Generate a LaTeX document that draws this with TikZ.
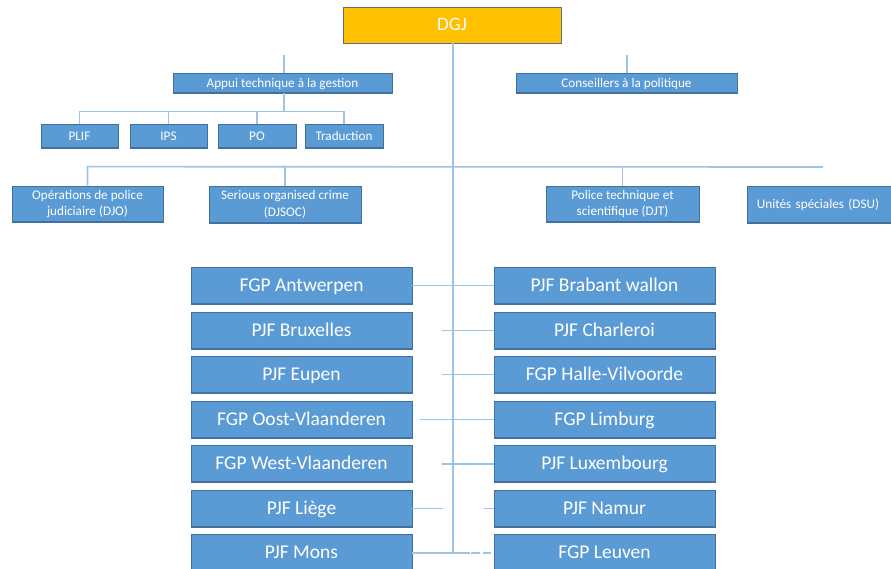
\documentclass[tikz,border=0pt]{standalone}
\usepackage{fontspec}
\setmainfont{Carlito}
\definecolor{boxblue}{HTML}{5B9BD5}
\definecolor{boxedge}{HTML}{41719C}
\definecolor{linkblue}{HTML}{9DC3E6}
\definecolor{gold}{HTML}{FFC000}
\definecolor{goldedge}{HTML}{5E6E84}
\tikzset{
  orgbox/.style={rectangle, fill=boxblue, draw=boxedge, line width=0.7pt, text=white,
    inner sep=0pt, align=center,
    path picture={\draw[boxedge, line width=2.4pt] (path picture bounding box.south west) -- (path picture bounding box.south east);}},
  smallbox/.style={orgbox, font=\fontsize{13.2}{16.5}\selectfont},
  onelinebox/.style={smallbox, text height=10pt, text depth=2pt},
  bigbox/.style={orgbox, minimum width=221pt, minimum height=37pt, text height=14pt, text depth=3pt, font=\fontsize{19.5}{22}\selectfont},
  link/.style={draw=linkblue, line width=1.6pt},
  thinlink/.style={draw=linkblue, line width=1.3pt}
}
\begin{document}
\begin{tikzpicture}[x=1pt,y=-1pt]
\useasboundingbox[fill=white] (0,0) rectangle (891,568);
% top
\node[rectangle, fill=gold, draw=goldedge, line width=0.8pt, text=white, minimum width=218pt, minimum height=36pt, inner sep=0pt, text height=14pt, text depth=3pt, font=\fontsize{19}{22}\selectfont] (dgj) at (452,25) {DGJ};
\node[onelinebox, minimum width=219pt, minimum height=20pt] (appui) at (282.5,83) {Appui technique à la gestion};
\node[onelinebox, minimum width=221pt, minimum height=20pt] (cons) at (626.5,83) {Conseillers à la politique};
\node[onelinebox, minimum width=77pt, minimum height=24pt] (plif) at (79.5,136) {PLIF};
\node[onelinebox, minimum width=77pt, minimum height=24pt] (ips) at (168.5,136) {IPS};
\node[onelinebox, minimum width=78pt, minimum height=24pt] (po) at (257,136) {PO};
\node[onelinebox, minimum width=78pt, minimum height=24pt] (trad) at (344,136) {Traduction};
\node[smallbox, minimum width=151pt, minimum height=36pt] (djo) at (87.5,204) {Opérations de police\\judiciaire (DJO)};
\node[smallbox, minimum width=152pt, minimum height=37pt] (djsoc) at (285,204.5) {Serious organised crime\\(DJSOC)};
\node[smallbox, minimum width=153pt, minimum height=36pt] (djt) at (622.5,204) {Police technique et\\scientifique (DJT)};
\node[onelinebox, minimum width=146pt, minimum height=37pt, text width=146pt] (dsu) at (820,204.5) {\hspace*{-4pt}Unités spéciales (DSU)};
% bottom columns
\node[bigbox] (antw) at (301.5,285.5) {FGP Antwerpen};
\node[bigbox] (brux) at (301.5,330.5) {PJF Bruxelles};
\node[bigbox] (eupen) at (301.5,374.5) {PJF Eupen};
\node[bigbox] (oost) at (301.5,419.5) {FGP Oost-Vlaanderen};
\node[bigbox] (west) at (301.5,464) {FGP West-Vlaanderen};
\node[bigbox] (liege) at (301.5,508.5) {PJF Liège};
\node[bigbox] (mons) at (301.5,552.5) {PJF Mons};
\node[bigbox] (brab) at (604.5,285.5) {PJF Brabant wallon};
\node[bigbox] (charl) at (604.5,330.5) {PJF Charleroi};
\node[bigbox] (halle) at (604.5,374.5) {FGP Halle-Vilvoorde};
\node[bigbox] (limb) at (604.5,419.5) {FGP Limburg};
\node[bigbox] (lux) at (604.5,464) {PJF Luxembourg};
\node[bigbox] (namur) at (604.5,508.5) {PJF Namur};
\node[bigbox] (leuv) at (604.5,552.5) {FGP Leuven};
% free ends
\coordinate (stubA) at (284,55);
\coordinate (stubC) at (627,55);
\coordinate (trunkend) at (453,553);
\coordinate (busend) at (823,167);
\coordinate (c2) at (442,330.5);
\coordinate (c3) at (442,374.5);
\coordinate (c4) at (420,419.5);
\coordinate (c5) at (442,464);
\coordinate (c6) at (443,508.5);
\coordinate (d6) at (452,508.5);
\coordinate (e6) at (484,508.5);
\coordinate (c7) at (470,553);
% connectors
\draw[link] (dgj.south -| trunkend) -- (trunkend);
\draw[thinlink] (stubA) -- (stubA |- appui.north);
\draw[thinlink] (stubC) -- (stubC |- cons.north);
\draw[link] (appui.south -| stubA) -- ++(0,19);
\draw[thinlink] (plif.north) -- ++(0,-12) -| (trad.north);
\draw[thinlink] (ips.north) -- ++(0,-12);
\draw[thinlink] (po.north) -- ++(0,-12);
\draw[link] (djo.north) -- ++(0,-19) -- (busend);
\draw[thinlink] (djsoc.north) -- ++(0,-19);
\draw[thinlink] (djt.north) -- ++(0,-19);
\draw[link] (antw.east) -- (brab.west);
\draw[link] (c2) -- (charl.west);
\draw[thinlink] (c3) -- (halle.west);
\draw[link] (c4) -- (limb.west);
\draw[thinlink] (c5) -- (lux.west);
\draw[link] (liege.east) -- (c6);
\draw[link] (d6) -- ++(2,0);
\draw[thinlink] (e6) -- (namur.west);
\draw[link] (mons.east |- trunkend) -- (c7);
\draw[link, dash pattern=on 9pt off 3pt] (c7) ++(1,0) -- ([xshift=-3pt]leuv.west |- trunkend);
\end{tikzpicture}
\end{document}
